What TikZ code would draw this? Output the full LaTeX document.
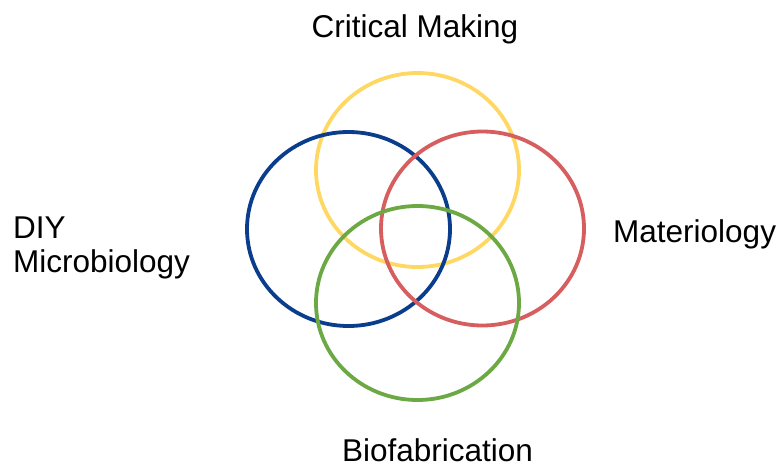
\documentclass[tikz,border=0pt]{standalone}
\usepackage{fontspec}
\setmainfont{Liberation Sans}
\usetikzlibrary{shapes.geometric, positioning}
\usepackage{xcolor}

\definecolor{ringyellow}{RGB}{255,216,100}
\definecolor{ringblue}{RGB}{10,62,140}
\definecolor{ringred}{RGB}{214,94,94}
\definecolor{ringgreen}{RGB}{108,168,68}

\begin{document}
\begin{tikzpicture}[x=1pt, y=-1pt,
  ring/.style={ellipse, draw=#1, line width=3.8pt, minimum width=203pt, minimum height=194pt, inner sep=0pt},
  label/.style={inner sep=0pt, font=\fontsize{31.5}{33.5}\selectfont}]
  \useasboundingbox (0,0) rectangle (781,466);
  % four overlapping fields
  \node[ring=ringyellow] (critical) at (417.5,170) {};
  \node[ring=ringblue] (diy) at (348.5,229) {};
  \node[ring=ringred] (materio) at (482.5,228.5) {};
  \node[ring=ringgreen] (biofab) at (417.5,303) {};
  % names of the fields
  \node[label, anchor=base] (criticaltext) at (415,37) {Critical Making};
  \node[label, anchor=base west] (materiotext) at (613,242) {Materiology};
  \node[label, anchor=base] (biofabtext) at (437.5,461) {Biofabrication};
  \node[label, anchor=north west, align=left] (diytext) at (13,217) {DIY\\Microbiology};
\end{tikzpicture}
\end{document}
